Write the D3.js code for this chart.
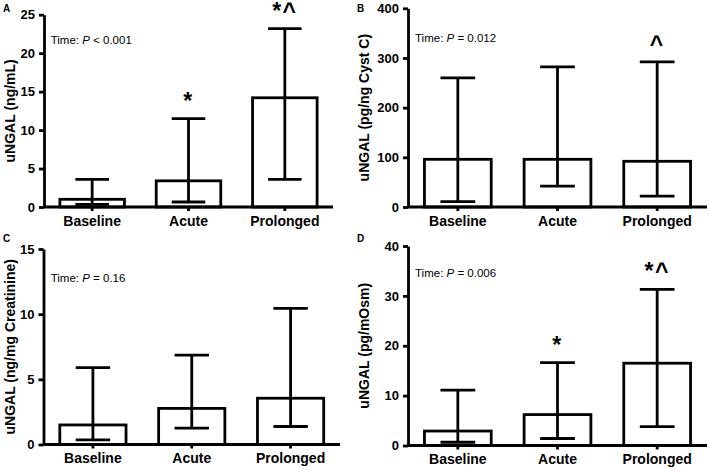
<!DOCTYPE html>
<html>
<head>
<meta charset="utf-8">
<script src="https://cdn.jsdelivr.net/npm/d3@7"></script>
<style>
  body { margin: 0; background: #fff; }
  svg { display: block; font-family: "Liberation Sans", Arial, sans-serif; }
</style>
</head>
<body>
<div id="chart"></div>
<script>
// groups on the x axis, same for every panel
var categories = ["Baseline", "Acute", "Prolonged"];

// panel A: uNGAL (ng/mL)
var meanA = [1.0, 3.4, 14.2];
var lowA  = [0.35, 0.65, 3.6];
var highA = [3.6, 11.5, 23.2];

// panel B: uNGAL (pg/ng Cyst C)
var meanB = [96, 96, 92];
var lowB  = [11, 42, 22];
var highB = [260, 282, 292];

// panel C: uNGAL (ng/mg Creatinine)
var meanC = [1.5, 2.77, 3.55];
var lowC  = [0.35, 1.25, 1.38];
var highC = [5.9, 6.85, 10.45];

// panel D: uNGAL (pg/mOsm)
var meanD = [2.9, 6.2, 16.5];
var lowD  = [0.65, 1.4, 3.8];
var highD = [11.1, 16.6, 31.3];

var panelLetters = ["A", "B", "C", "D"];
var yLabels = ["uNGAL (ng/mL)", "uNGAL (pg/ng Cyst C)", "uNGAL (ng/mg Creatinine)", "uNGAL (pg/mOsm)"];
var yMax  = [25, 400, 15, 40];
var yStep = [5, 100, 5, 10];
var pOps  = ["<", "=", "=", "="];
var pVals = ["0.001", "0.012", "0.16", "0.006"];
var sigA = ["", "*", "*^"];
var sigB = ["", "", "^"];
var sigC = ["", "", ""];
var sigD = ["", "*", "*^"];

var means = [meanA, meanB, meanC, meanD];
var lows  = [lowA, lowB, lowC, lowD];
var highs = [highA, highB, highC, highD];
var sigs  = [sigA, sigB, sigC, sigD];

// where each panel's plot area sits in the 709x467 picture
var frames = [
  { x0: 44,  x1: 333, y0: 14.7, y1: 207,   lx: 3,   ly: 12,  labX: 15,  tx: 50.7, ty: 43.5 },
  { x0: 408, x1: 707, y0: 8.3,  y1: 207,   lx: 357, ly: 12,  labX: 369, tx: 415,  ty: 42 },
  { x0: 43.5, x1: 340, y0: 249, y1: 444.5, lx: 3,   ly: 242, labX: 15,  tx: 50.7, ty: 281.5 },
  { x0: 408, x1: 707, y0: 246,  y1: 445.5, lx: 357, ly: 242, labX: 369, tx: 415,  ty: 277 }
];

var lw = 2.8;

var svg = d3.select("#chart")
            .append("svg")
            .attr("width", 709)
            .attr("height", 467);

frames.forEach(function(f, i) {
  var x = d3.scaleBand()
            .domain(categories)
            .range([f.x0, f.x1])
            .paddingInner(0.33)
            .paddingOuter(0.165);
  var y = d3.scaleLinear()
            .domain([0, yMax[i]])
            .range([f.y1, f.y0]);

  var rows = categories.map(function(c, j) {
    return { cat: c, mean: means[i][j], low: lows[i][j], high: highs[i][j], sig: sigs[i][j] };
  });

  var g = svg.append("g");

  // bars
  g.selectAll("rect.bar")
   .data(rows)
   .enter()
   .append("rect")
     .attr("class", "bar")
     .attr("x", function(d) { return x(d.cat); })
     .attr("y", function(d) { return y(d.mean); })
     .attr("width", x.bandwidth())
     .attr("height", function(d) { return y(0) - y(d.mean); })
     .attr("fill", "white")
     .attr("stroke", "black")
     .attr("stroke-width", lw);

  // error bars
  var capW = x.bandwidth() * 0.26;
  var cx = function(d) { return x(d.cat) + x.bandwidth() / 2; };
  g.selectAll("line.err")
   .data(rows)
   .enter()
   .append("line")
     .attr("x1", cx).attr("x2", cx)
     .attr("y1", function(d) { return y(d.low); })
     .attr("y2", function(d) { return y(d.high); })
     .attr("stroke", "black").attr("stroke-width", lw);
  ["low", "high"].forEach(function(k) {
    g.selectAll("line.cap-" + k)
     .data(rows)
     .enter()
     .append("line")
       .attr("x1", function(d) { return cx(d) - capW; })
       .attr("x2", function(d) { return cx(d) + capW; })
       .attr("y1", function(d) { return y(d[k]); })
       .attr("y2", function(d) { return y(d[k]); })
       .attr("stroke", "black").attr("stroke-width", lw);
  });

  // significance marks
  g.selectAll("text.sig")
   .data(rows)
   .enter()
   .append("text")
     .text(function(d) { return d.sig; })
     .attr("x", cx)
     .attr("y", function(d) { return y(d.high) - 10; })
     .attr("text-anchor", "middle")
     .attr("letter-spacing", "1.5px")
     .attr("font-weight", "bold")
     .attr("font-size", "23px");

  // axes
  var yAxis = d3.axisLeft(y)
                .tickValues(d3.range(0, yMax[i] + 0.001, yStep[i]))
                .tickSize(5).tickSizeOuter(0).tickPadding(4);
  var ya = g.append("g")
            .attr("transform", "translate(" + f.x0 + ",0)")
            .call(yAxis);
  var xAxis = d3.axisBottom(x).tickSize(4).tickSizeOuter(0).tickPadding(5);
  var xa = g.append("g")
            .attr("transform", "translate(0," + f.y1 + ")")
            .call(xAxis);
  xa.select(".domain").attr("d", "M" + f.x0 + ",0H" + f.x1);

  [ya, xa].forEach(function(a) {
    a.select(".domain").attr("stroke", "black").attr("stroke-width", lw);
    a.selectAll(".tick line").attr("stroke", "black").attr("stroke-width", lw);
    a.selectAll(".tick text")
     .attr("fill", "black")
     .attr("font-family", "Liberation Sans, Arial, sans-serif")
     .attr("font-weight", "bold");
  });
  ya.selectAll(".tick text").attr("font-size", "13px");
  xa.selectAll(".tick text").attr("font-size", "14px");

  // y axis title
  g.append("text")
   .text(yLabels[i])
   .attr("transform", "translate(" + f.labX + "," + ((f.y0 + f.y1) / 2) + ") rotate(-90)")
   .attr("text-anchor", "middle")
   .attr("font-weight", "bold")
   .attr("font-size", "14px");

  // panel letter
  g.append("text")
   .text(panelLetters[i])
   .attr("x", f.lx).attr("y", f.ly)
   .attr("font-weight", "bold")
   .attr("font-size", "10px");

  // time effect
  var t = g.append("text")
           .attr("x", f.tx).attr("y", f.ty)
           .attr("font-size", "11.5px");
  t.append("tspan").text("Time: ");
  t.append("tspan").attr("font-style", "italic").text("P");
  t.append("tspan").text(" " + pOps[i] + " " + pVals[i]);
});
</script>
</body>
</html>
